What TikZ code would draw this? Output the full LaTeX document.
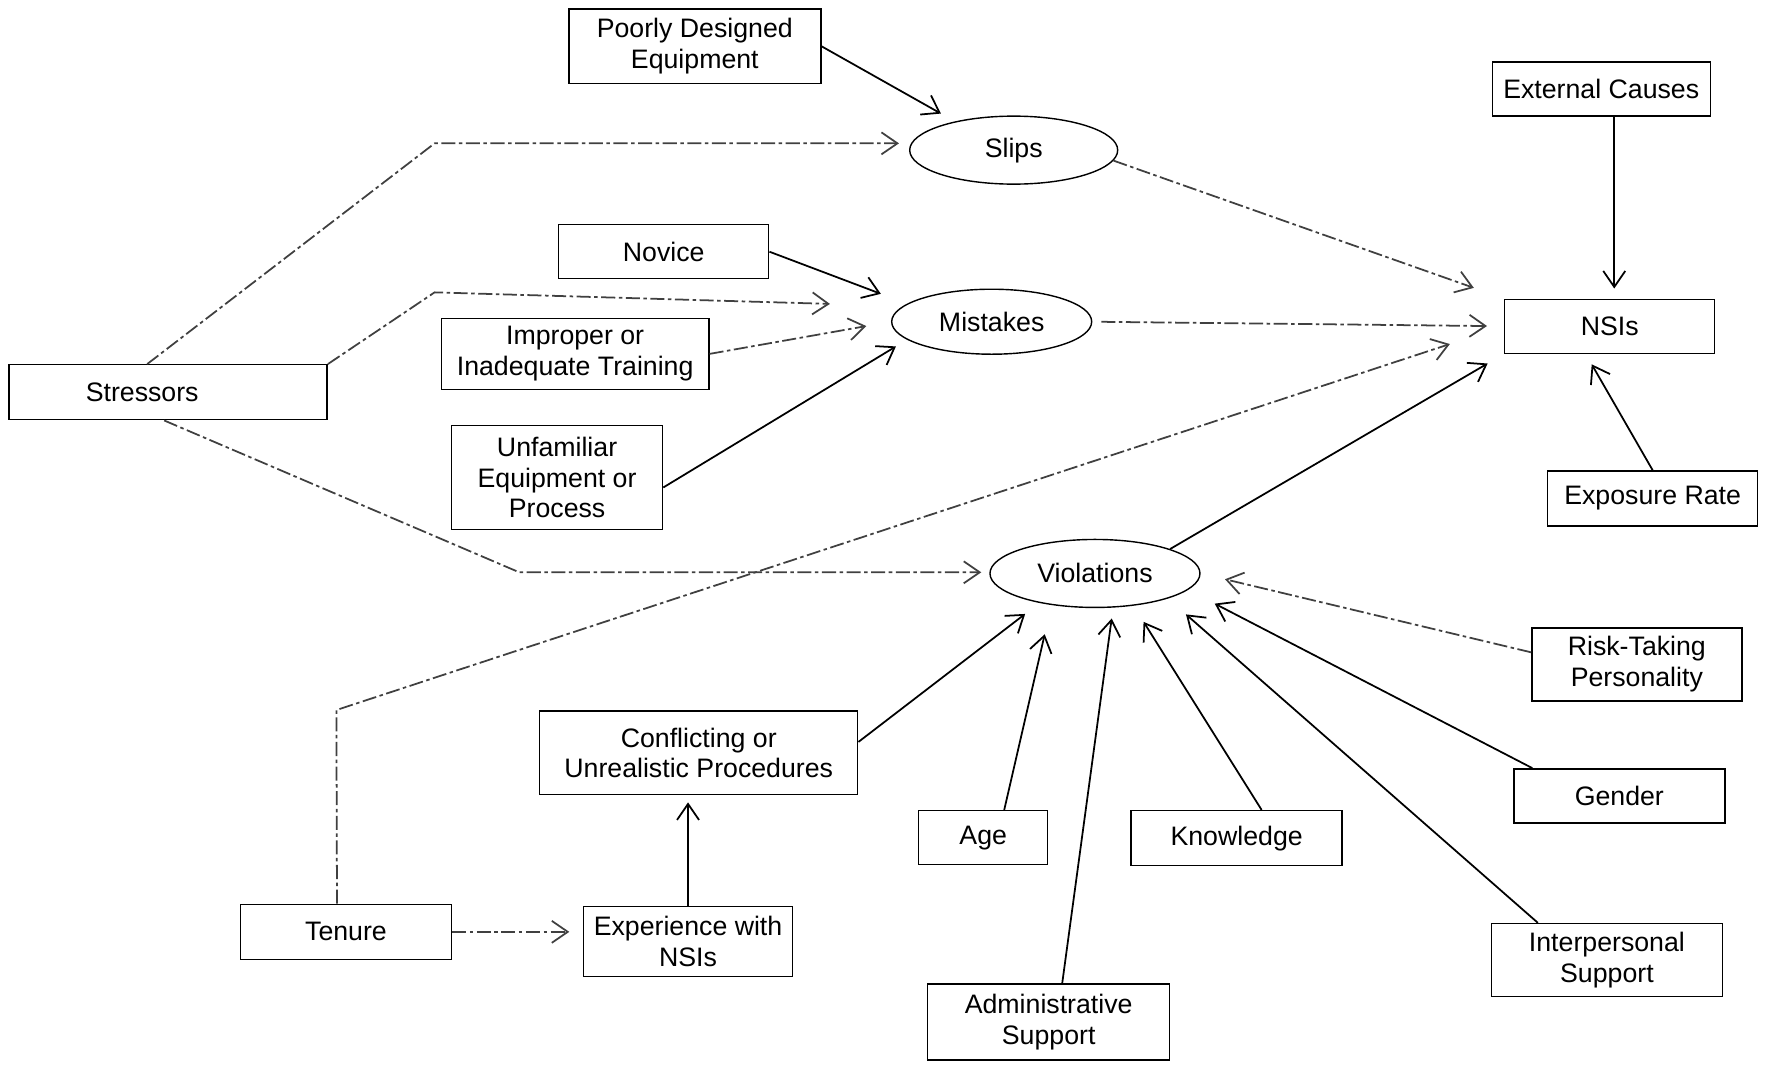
\documentclass[tikz,border=0pt]{standalone}
\usepackage{fontspec}
\setmainfont{Liberation Sans}
\usetikzlibrary{arrows.meta}
\usetikzlibrary{shapes.geometric}
\usetikzlibrary{calc}

\begin{document}
\begin{tikzpicture}
	[
	x=0.11288mm, y=-0.11288mm,
	font=\fontsize{7.6}{8.8}\selectfont,
  > = {Straight Barb[length=1.6mm,width=2.2mm]},
  box/.style = {draw, rectangle, align=center, inner sep=0.5mm, minimum width=21mm, minimum height=5.4mm},
  oval/.style = {draw, ellipse, inner sep=0pt, minimum width=21mm, minimum height=6.8mm},
  link/.style = {->, line width=0.5pt},
  faint/.style = {->, line width=0.5pt, black!75, dash pattern=on 4pt off 1pt on 1pt off 1pt}
  ]
	\useasboundingbox (0,0) rectangle (1568,943);

	\node[box, minimum width=25.2mm, minimum height=7.45mm] (poorly) at (615.5,41) {Poorly Designed\\Equipment};
	\node[oval, minimum width=20.8mm] (slips) at (898,133) {Slips};
	\node[box, minimum width=21.8mm] (external) at (1418.5,79) {External Causes};
	\node[box] (novice) at (588,223) {Novice};
	\node[oval, minimum width=20mm, minimum height=6.5mm] (mistakes) at (878.5,285) {Mistakes};
	\node[box] (nsis) at (1426,289) {NSIs};
	\node[box, minimum width=26.75mm, minimum height=7.1mm] (improper) at (509.5,313.5) {Improper or\\Inadequate Training};
	\node[box, minimum width=31.8mm, minimum height=5.5mm] (stressors) at (149,347.5) {Stressors\hspace*{5.2mm}};
	\node[box, minimum width=21.1mm, minimum height=10.4mm] (unfamiliar) at (493.5,423) {Unfamiliar\\Equipment or\\Process};
	\node[box, minimum height=5.5mm] (exposure) at (1464,441.5) {Exposure Rate};
	\node[oval] (violations) at (970,508) {Violations};
	\node[box, minimum height=7.3mm] (risk) at (1450,588.5) {Risk-Taking\\Personality};
	\node[box, minimum width=31.8mm, minimum height=8.35mm] (conflicting) at (619,667) {Conflicting or\\Unrealistic Procedures};
	\node[box, minimum width=21.1mm] (gender) at (1434.5,705) {Gender};
	\node[box, minimum width=12.9mm] (age) at (871,742) {Age};
	\node[box, minimum width=21.1mm, minimum height=5.5mm] (knowledge) at (1095.5,742.5) {Knowledge};
	\node[box, minimum width=21.1mm, minimum height=5.5mm] (tenure) at (306.5,825.5) {Tenure};
	\node[box, minimum width=20.9mm, minimum height=7mm] (experience) at (609.5,834) {Experience with\\NSIs};
	\node[box, minimum width=23.1mm, minimum height=7.3mm] (interpersonal) at (1423.5,850.5) {Interpersonal\\Support};
	\node[box, minimum width=24.2mm, minimum height=7.6mm] (admin) at (929,905.5) {Administrative\\Support};

	\coordinate (kneeA) at (385,127);
	\coordinate (kneeB) at (385,259);
	\coordinate (kneeC) at (460,507);
	\coordinate (kneeD) at (298,629);

	\draw[link, shorten >=1.6mm] (poorly.east) -- (slips.154);
	\draw[faint, shorten >=1mm] ([xshift=-2.1mm]stressors.north) -- (kneeA) -- (kneeA -| slips.west);
	\draw[faint, shorten >=7.3mm] (stressors.north east) -- (kneeB) -- (mistakes.170);
	\draw[link, shorten >=2.8mm] (novice.east) -- (mistakes.168);
	\draw[faint, shorten >=2.5mm] (improper.east) -- (mistakes.west);
	\draw[link, shorten >=1.3mm] ([yshift=-1mm]unfamiliar.east) -- (mistakes.192);

	\draw[faint, shorten >=3.2mm] (slips.-6) -- (nsis.north west);
	\draw[faint, shorten <=0.9mm, shorten >=1.7mm] (mistakes.east) -- (nsis.west);
	\draw[link, shorten >=1mm] ([xshift=1.3mm]external.south) -- ([xshift=1.3mm]external.south |- nsis.north);
	\draw[link, shorten >=1.2mm] (exposure.north) -- ([xshift=-2.4mm]nsis.south);
	\draw[faint, shorten >=5.7mm] ([xshift=-0.9mm]tenure.north) -- (kneeD) -- (nsis.west);
	\draw[link, shorten >=1.9mm] (violations.18) -- (nsis.south west);

	\draw[faint, shorten >=0.8mm] ([xshift=-0.4mm]stressors.south) -- (kneeC) -- (kneeC -| violations.west);
	\draw[link, shorten >=1.8mm] ([yshift=1.1mm]conflicting.east) -- (violations.208);
	\draw[link, shorten >=3mm] ([xshift=2.1mm]age.north) -- (violations.216);
	\draw[link, shorten >=1.1mm] ([xshift=1.35mm]admin.north) -- (violations.298);
	\draw[link, shorten >=1.9mm] ([xshift=2.5mm]knowledge.north) -- (violations.320);
	\draw[link, shorten >=2.4mm] ([xshift=-6.9mm]interpersonal.north) -- (violations.341);
	\draw[link, shorten >=3mm] ([xshift=-8.7mm]gender.north) -- (violations.350);
	\draw[faint, shorten >=2.5mm] ([yshift=1.2mm]risk.west) -- (violations.east);

	\draw[link, shorten >=0.7mm] (experience.north) -- (experience.north |- conflicting.south);
	\draw[faint, shorten >=1.35mm] (tenure.east) -- (tenure.east -| experience.west);
\end{tikzpicture}
\end{document}
